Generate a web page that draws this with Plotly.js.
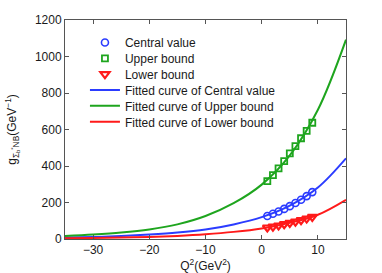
<!DOCTYPE html>
<html>
<head>
<meta charset="utf-8">
<script src="https://cdn.plot.ly/plotly-3.0.1.min.js"></script>
<style>html,body{margin:0;padding:0;background:#fff;}#chart{width:382px;height:273px;}</style>
</head>
<body>
<div id="chart"></div>
<script>
// Data points
const q2Points = [1, 2, 3, 4, 5, 6, 7, 8, 9];
const centralValues = [126, 138, 151, 165, 180, 197, 215, 235, 257];
const upperValues = [317, 350, 387, 427, 469, 509, 552, 593, 637];
const lowerValues = [63, 68, 74, 81, 88, 95, 103, 112, 121];

// Fitted curves
const q2Curve = [-35, -30, -25, -20, -15, -10, -5, 0, 5, 10, 15];
const centralFit = [8, 11, 16, 24, 35, 52, 80, 120, 183, 282, 442];
const upperFit = [16, 24, 35, 52, 80, 126, 196, 298, 458, 708, 1092];
const lowerFit = [4, 6, 8, 11, 17, 26, 39, 58, 89, 133, 215];

const xTicks = [-30, -20, -10, 0, 10];
const yTicks = [0, 200, 400, 600, 800, 1000, 1200];

const BLUE = '#2b3cff', GREEN = '#1ea51e', RED = '#ff1a1a';

const traces = [
  {x: q2Points, y: centralValues, mode: 'markers', name: 'Central value', legend: 'legend',
   marker: {symbol: 'circle-open', size: 7, color: BLUE, line: {width: 1.6, color: BLUE}}},
  {x: q2Points, y: upperValues, mode: 'markers', name: 'Upper bound', legend: 'legend2',
   marker: {symbol: 'square-open', size: 6, color: GREEN, line: {width: 1.8, color: GREEN}}},
  {x: q2Points, y: lowerValues, mode: 'markers', name: 'Lower bound', legend: 'legend3',
   marker: {symbol: 'triangle-down-open', size: 8, color: RED, line: {width: 2.2, color: RED}}},
  {x: q2Curve, y: centralFit, mode: 'lines', name: 'Fitted curve of Central value', legend: 'legend4',
   line: {color: BLUE, width: 2, shape: 'spline'}},
  {x: q2Curve, y: upperFit, mode: 'lines', name: 'Fitted curve of Upper bound', legend: 'legend5',
   line: {color: GREEN, width: 2, shape: 'spline'}},
  {x: q2Curve, y: lowerFit, mode: 'lines', name: 'Fitted curve of Lower bound', legend: 'legend6',
   line: {color: RED, width: 2, shape: 'spline'}}
];

const font = {family: 'Liberation Sans, Arial, sans-serif', size: 12, color: '#1a1a1a'};

function leg(y) {
  return {x: 0.071, y: y, xanchor: 'left', yanchor: 'middle', bgcolor: 'rgba(0,0,0,0)',
          font: font, itemwidth: 30, borderwidth: 0};
}

const layout = {
  width: 382, height: 273,
  margin: {l: 65, r: 36, t: 20, b: 34},
  paper_bgcolor: '#fff', plot_bgcolor: '#fff',
  font: font,
  showlegend: true,
  legend: leg(0.897),
  legend2: leg(0.825),
  legend3: leg(0.753),
  legend4: leg(0.680),
  legend5: leg(0.608),
  legend6: leg(0.535),
  xaxis: {range: [-35, 15], tickvals: xTicks, ticks: 'inside', ticklen: 4, tickcolor: '#555',
          showline: true, linecolor: '#555', linewidth: 1, mirror: 'ticks', showgrid: false, zeroline: false,
          title: {text: 'Q<sup>2</sup>(GeV<sup>2</sup>)', font: font, standoff: 2}},
  yaxis: {range: [0, 1200], tickvals: yTicks, ticks: 'inside', ticklen: 4, tickcolor: '#555',
          showline: true, linecolor: '#555', linewidth: 1, mirror: 'ticks', showgrid: false, zeroline: false,
          title: {text: 'g<sub>Σ<sub>b</sub><sup>*</sup>NB</sub>(GeV<sup>−1</sup>)', font: font, standoff: 15}}
};

Plotly.newPlot('chart', traces, layout, {displayModeBar: false, staticPlot: true});
</script>
</body>
</html>
